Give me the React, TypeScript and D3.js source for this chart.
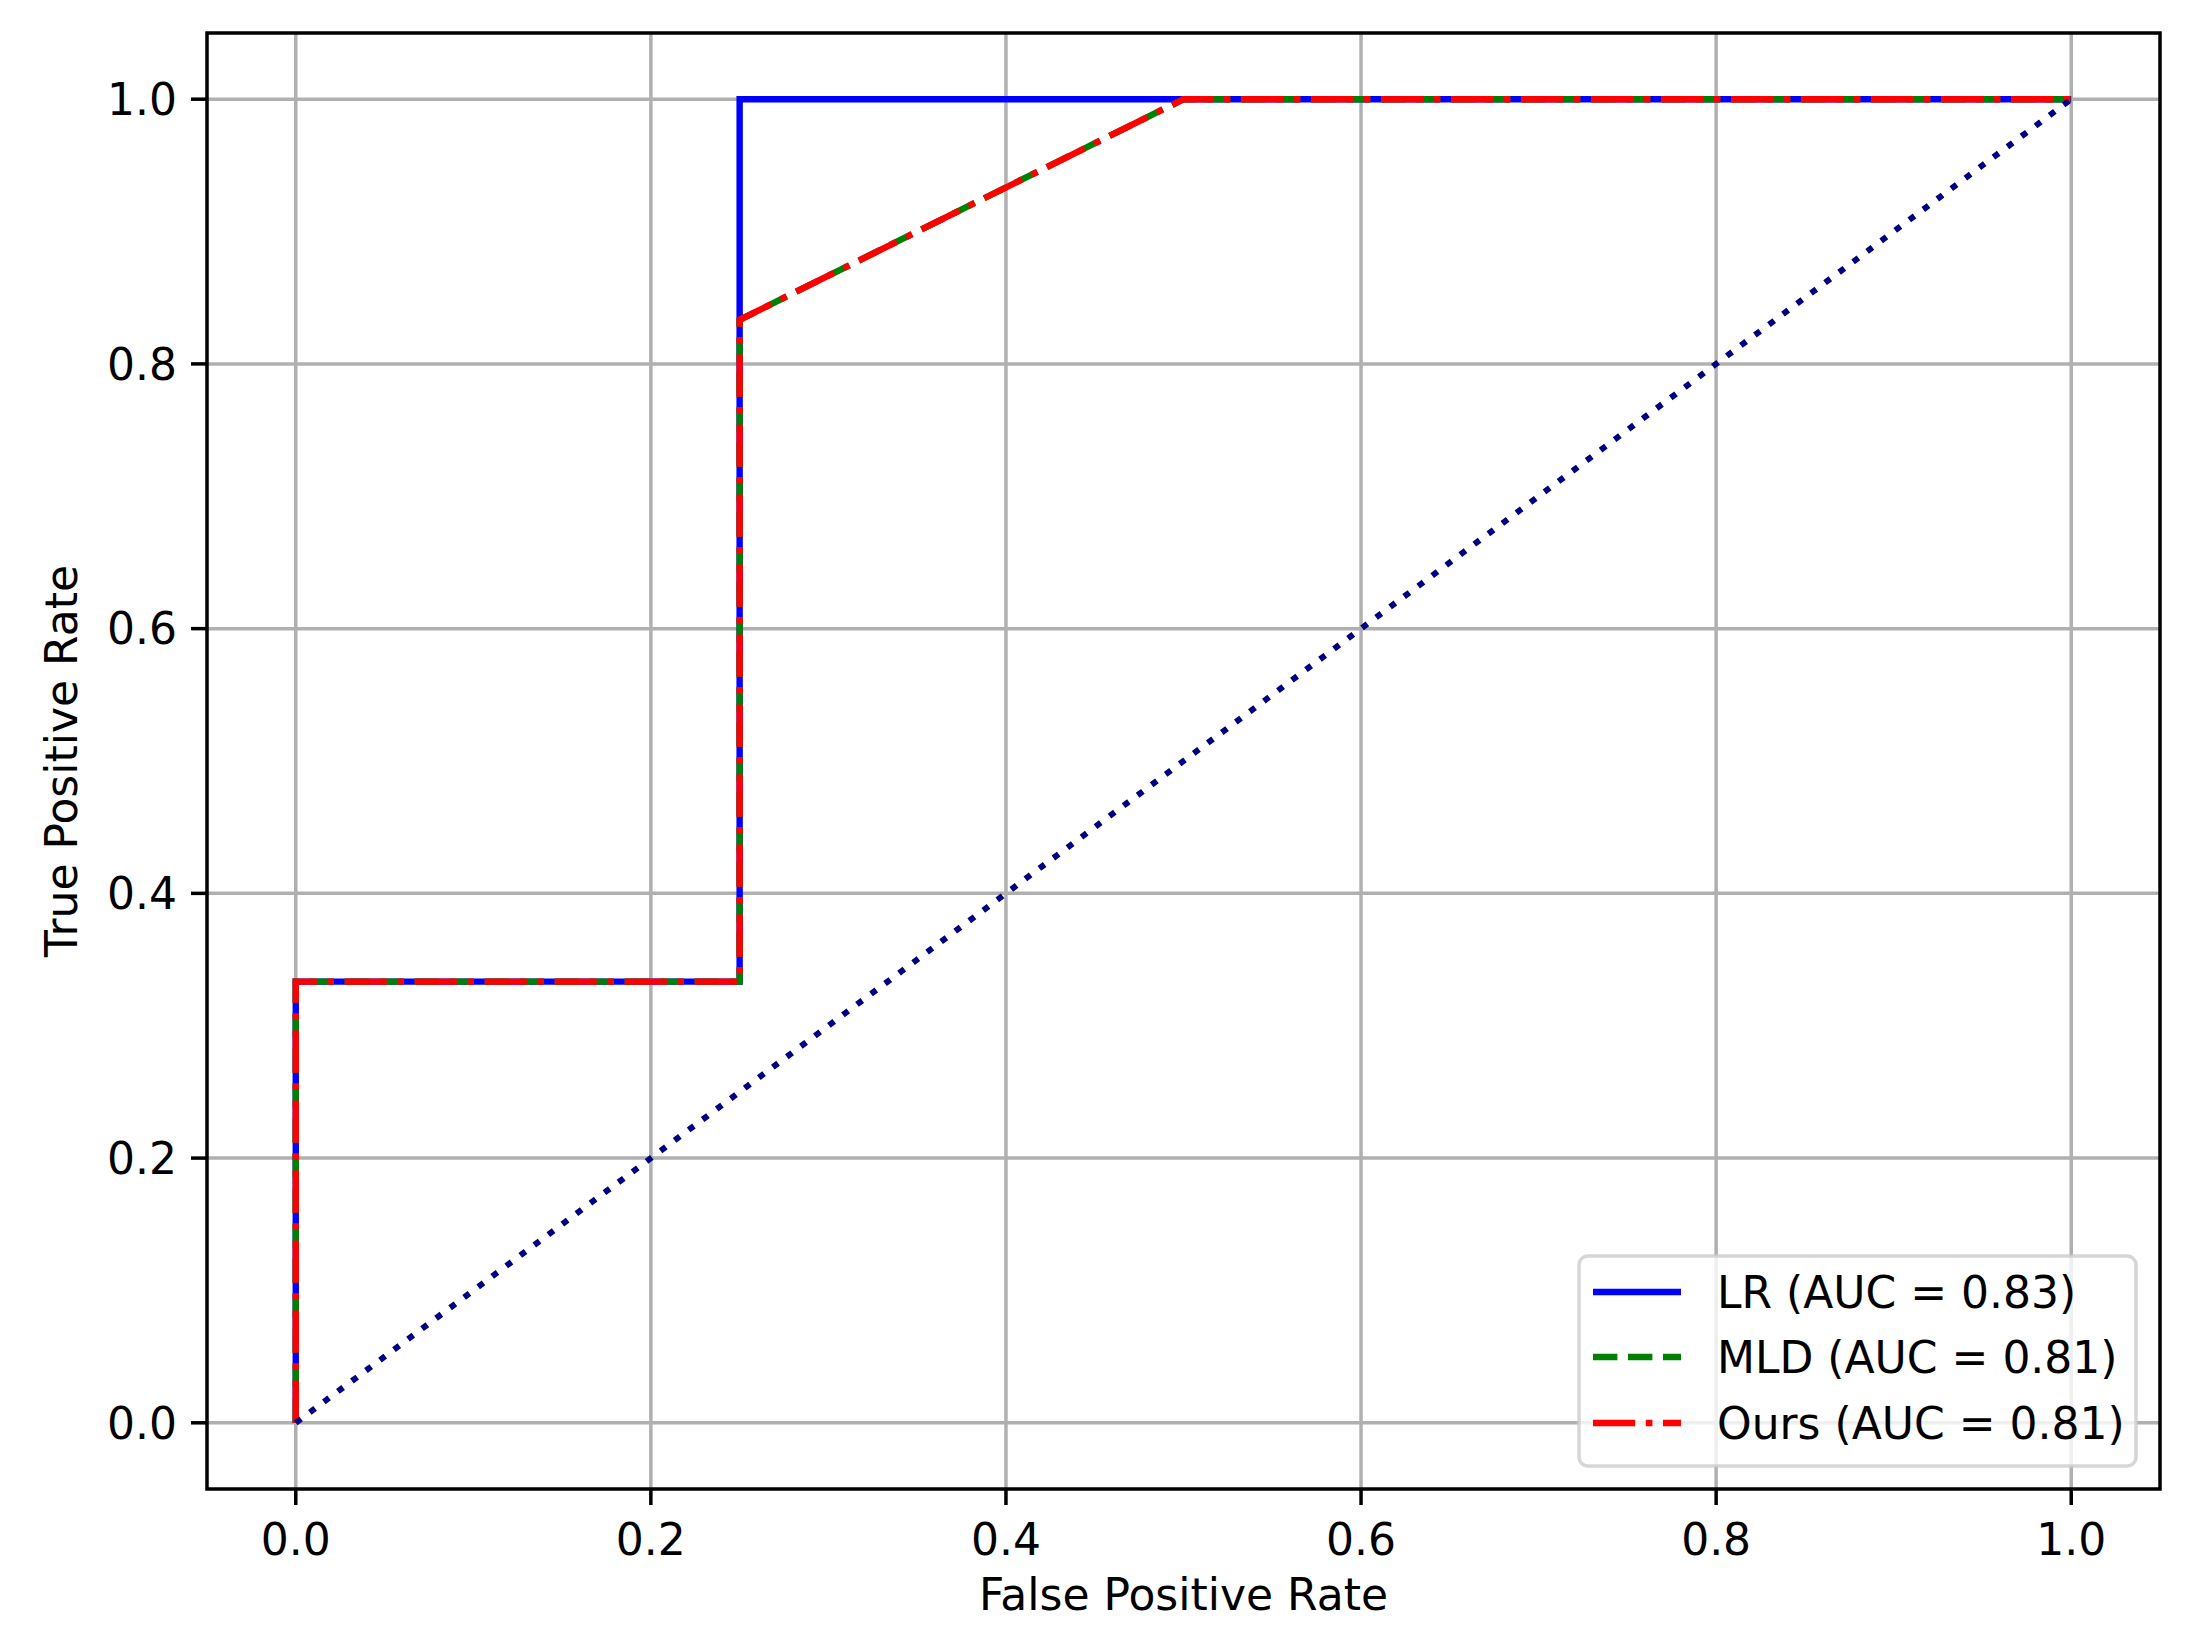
import React from "react";
import * as d3 from "d3";

const W = 2185;
const H = 1638;

const fprLR = [0, 0, 0.25, 0.25, 1];
const tprLR = [0, 0.3333, 0.3333, 1, 1];
const fprMLD = [0, 0, 0.25, 0.25, 0.5, 1];
const tprMLD = [0, 0.3333, 0.3333, 0.8333, 1, 1];
const fprOurs = [0, 0, 0.25, 0.25, 0.5, 1];
const tprOurs = [0, 0.3333, 0.3333, 0.8333, 1, 1];
const diagX = [0, 1];
const diagY = [0, 1];
const legendLabels = ["LR (AUC = 0.83)", "MLD (AUC = 0.81)", "Ours (AUC = 0.81)"];
const tickValues = [0, 0.2, 0.4, 0.6, 0.8, 1.0];

const LEFT = 207, RIGHT = 2160, TOP = 33, BOTTOM = 1489;
const FONT = "DejaVu Sans";
const FS = 44;

export default function App() {
  const x = d3.scaleLinear().domain([-0.05, 1.05]).range([LEFT, RIGHT]);
  const y = d3.scaleLinear().domain([-0.05, 1.05]).range([BOTTOM, TOP]);
  const line = d3.line<[number, number]>().x((d) => x(d[0])).y((d) => y(d[1]));
  const zip = (a: number[], b: number[]) => a.map((v, i) => [v, b[i]] as [number, number]);

  const lw = 6.4;
  const series = [
    { xs: fprLR, ys: tprLR, color: "#0000ff", dash: "none" },
    { xs: fprMLD, ys: tprMLD, color: "#008000", dash: "24.4 10.6" },
    { xs: fprOurs, ys: tprOurs, color: "#ff0000", dash: "42.2 10.6 6.6 10.6" },
  ];

  const legX = 1579, legY = 1256, legW = 557, legH = 210;
  const rowY = [1292, 1357, 1423];

  return (
    <svg width={W} height={H} style={{ display: "block", position: "absolute", left: 0, top: 0 }}>
      <rect x={0} y={0} width={W} height={H} fill="#ffffff" />
      {tickValues.map((t) => (
        <line key={"gx" + t} x1={x(t)} x2={x(t)} y1={TOP} y2={BOTTOM} stroke="#b0b0b0" strokeWidth={3.5} />
      ))}
      {tickValues.map((t) => (
        <line key={"gy" + t} x1={LEFT} x2={RIGHT} y1={y(t)} y2={y(t)} stroke="#b0b0b0" strokeWidth={3.5} />
      ))}
      {series.map((s, i) => (
        <path key={i} d={line(zip(s.xs, s.ys)) || ""} fill="none" stroke={s.color} strokeWidth={lw}
          strokeDasharray={s.dash} strokeLinejoin="miter" />
      ))}
      <path d={line(zip(diagX, diagY)) || ""} fill="none" stroke="#000080" strokeWidth={6} strokeDasharray="6.6 10.9" />
      <rect x={LEFT} y={TOP} width={RIGHT - LEFT} height={BOTTOM - TOP} fill="none" stroke="#000" strokeWidth={3.5} />
      {tickValues.map((t) => (
        <g key={"tx" + t}>
          <line x1={x(t)} x2={x(t)} y1={BOTTOM} y2={BOTTOM + 16} stroke="#000" strokeWidth={3.5} />
          <text x={x(t)} y={1555} textAnchor="middle" fontFamily={FONT} fontSize={FS} fill="#000">{t.toFixed(1)}</text>
        </g>
      ))}
      {tickValues.map((t) => (
        <g key={"ty" + t}>
          <line x1={LEFT - 16} x2={LEFT} y1={y(t)} y2={y(t)} stroke="#000" strokeWidth={3.5} />
          <text x={177} y={y(t)} dy="0.36em" textAnchor="end" fontFamily={FONT} fontSize={FS} fill="#000">{t.toFixed(1)}</text>
        </g>
      ))}
      <text x={(LEFT + RIGHT) / 2} y={1610} textAnchor="middle" fontFamily={FONT} fontSize={FS} fill="#000">False Positive Rate</text>
      <text transform={`translate(77, ${(TOP + BOTTOM) / 2}) rotate(-90)`} textAnchor="middle" fontFamily={FONT} fontSize={FS} fill="#000">True Positive Rate</text>
      <rect x={legX} y={legY} width={legW} height={legH} rx={9} ry={9} fill="#ffffff" fillOpacity={0.8}
        stroke="#cccccc" strokeOpacity={0.8} strokeWidth={3.5} />
      {series.map((s, i) => (
        <g key={"lg" + i}>
          <line x1={1593} x2={1681} y1={rowY[i]} y2={rowY[i]} stroke={s.color} strokeWidth={lw} strokeDasharray={s.dash} />
          <text x={1717} y={rowY[i]} dy="0.36em" fontFamily={FONT} fontSize={FS} fill="#000">{legendLabels[i]}</text>
        </g>
      ))}
    </svg>
  );
}
